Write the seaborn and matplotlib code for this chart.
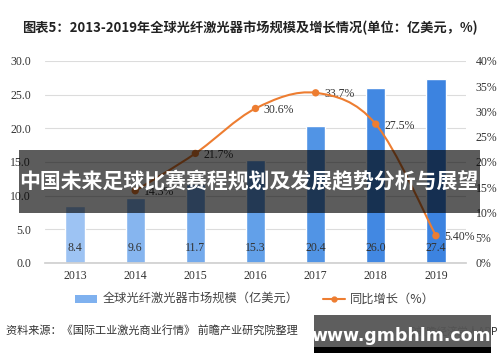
import numpy as np
import matplotlib
matplotlib.use("Agg")
import matplotlib.pyplot as plt
import seaborn as sns
from matplotlib.path import Path
from matplotlib.patches import PathPatch, Rectangle
from matplotlib.lines import Line2D
from matplotlib.patches import Patch

# data
years = ["2013", "2014", "2015", "2016", "2017", "2018", "2019"]
market_size = [8.4, 9.6, 11.7, 15.3, 20.4, 26.0, 27.4]
growth_years = ["2014", "2015", "2016", "2017", "2018", "2019"]
growth_rate = [14.3, 21.7, 30.6, 33.7, 27.5, 5.40]
growth_labels = ["14.3%", "21.7%", "30.6%", "33.7%", "27.5%", "5.40%"]
bar_colors = ["#9dc3f3", "#86b5ef", "#74aaec", "#62a0e9", "#5194e5", "#4288e2", "#3c83e0"]

sns.set_theme(style="white")
plt.rcParams["font.family"] = ["Noto Sans CJK SC", "DejaVu Sans"]
serif = ["Liberation Serif", "DejaVu Serif"]

fig = plt.figure(figsize=(5, 3.62), dpi=100)
ax = fig.add_axes([0.09, 0.2735, 0.842, 0.558])

sns.barplot(x=years, y=market_size, hue=years, palette=bar_colors, legend=False,
            width=0.32, saturation=1, ax=ax, zorder=2)
ax.set_ylim(0, 30)
ax.set_xlim(-0.5, 6.5)
ax.set_yticks(np.arange(0, 31, 5))
ax.set_yticklabels([f"{v:.1f}" for v in np.arange(0, 31, 5)], fontfamily=serif,
                   fontsize=8.5, color="#333333")
ax.set_xticks(range(len(years)))
ax.set_xticklabels(years, fontfamily=serif, fontsize=8.5, color="#333333")
ax.tick_params(axis="x", length=0, pad=5)
ax.tick_params(axis="y", length=0, pad=10)
ax.grid(axis="y", color="#dcdcdc", linewidth=0.8, zorder=0)
ax.set_axisbelow(True)
for s in ["top", "left", "right"]:
    ax.spines[s].set_visible(False)
ax.spines["bottom"].set_color("#d0d0d0")
ax.set_xlabel("")
ax.set_ylabel("")

for i, v in enumerate(market_size):
    ax.text(i, 2.2, f"{v:.1f}", ha="center", va="center", fontsize=8.5,
            fontfamily=serif, color="#333333", zorder=3)

# growth line on the right axis
ax2 = ax.twinx()
ax2.set_ylim(0, 40)
ax2.set_yticks(np.arange(0, 41, 5))
ax2.set_yticklabels([f"{v}%" for v in range(0, 41, 5)], fontfamily=serif,
                    fontsize=8.5, color="#333333")
ax2.tick_params(axis="y", length=0, pad=7)
for s in ax2.spines.values():
    s.set_visible(False)
ax2.grid(False)

gx = [years.index(y) for y in growth_years]
gy = growth_rate
# smooth curve through the points (cardinal spline as bezier segments)
verts = [(gx[0], gy[0])]
codes = [Path.MOVETO]
t = 1 / 6
for k in range(len(gx) - 1):
    p0 = (gx[k - 1], gy[k - 1]) if k > 0 else (gx[k], gy[k])
    p1 = (gx[k], gy[k])
    p2 = (gx[k + 1], gy[k + 1])
    p3 = (gx[k + 2], gy[k + 2]) if k + 2 < len(gx) else p2
    c1 = (p1[0] + (p2[0] - p0[0]) * t, p1[1] + (p2[1] - p0[1]) * t)
    c2 = (p2[0] - (p3[0] - p1[0]) * t, p2[1] - (p3[1] - p1[1]) * t)
    verts += [c1, c2, p2]
    codes += [Path.CURVE4] * 3
ax2.add_patch(PathPatch(Path(verts, codes), fill=False, edgecolor="#ed7d31",
                        linewidth=1.5, zorder=4))
sns.scatterplot(x=gx, y=gy, color="#ed7d31", s=28, edgecolor="none", ax=ax2, zorder=5)
for xv, yv, lab in zip(gx, gy, growth_labels):
    ax2.annotate(lab, (xv, yv), xytext=(6, -1), textcoords="offset points",
                 ha="left", va="center", fontsize=8.5, fontfamily=serif, color="#333333")

fig.text(0.5, 0.922, "图表5：2013-2019年全球光纤激光器市场规模及增长情况(单位：亿美元，%)",
         ha="center", va="center", fontsize=9.5, fontweight="bold", color="#222222")

handles = [Patch(facecolor="#7fb1ef", edgecolor="none"),
           Line2D([0], [0], color="#ed7d31", linewidth=1.5, marker="o", markersize=3.5)]
fig.legend(handles, ["全球光纤激光器市场规模（亿美元）", "同比增长（%）"], loc="center",
           bbox_to_anchor=(0.51, 0.172), ncol=2, frameon=False, fontsize=8.8,
           handlelength=1.8, handleheight=0.6, handletextpad=0.4, columnspacing=2.0,
           labelcolor="#444444")

fig.text(0.012, 0.088, "资料来源：《国际工业激光商业行情》 前瞻产业研究院整理", ha="left",
         va="center", fontsize=8, color="#333333")
fig.text(0.995, 0.088, "@前瞻经济学人APP", ha="right", va="center", fontsize=7.5, color="#333333")

# overlay banners
fig.patches.append(Rectangle((19 / 500, 1 - 213 / 362), 461 / 500, 63 / 362,
                             transform=fig.transFigure, facecolor="black", alpha=0.64,
                             edgecolor="none", zorder=10))
fig.text(0.498, 1 - 182 / 362, "中国未来足球比赛赛程规划及发展趋势分析与展望", ha="center",
         va="center", fontsize=15, fontweight="bold", color="white", zorder=11)
fig.patches.append(Rectangle((314 / 500, 1 - 347 / 362), 177 / 500, 32 / 362,
                             transform=fig.transFigure, facecolor="#555555", alpha=0.95,
                             edgecolor="none", zorder=10))
fig.patches.append(Rectangle((314 / 500, 1 - 353 / 362), 177 / 500, 6 / 362,
                             transform=fig.transFigure, facecolor="black",
                             edgecolor="none", zorder=10))
fig.text(0.802, 1 - 336 / 362, "www.gmbhlm.com", ha="center", va="center", fontsize=12.5,
         fontweight="bold", color="white", family=["DejaVu Sans"], zorder=11)

fig.savefig("out.png", dpi=100)
